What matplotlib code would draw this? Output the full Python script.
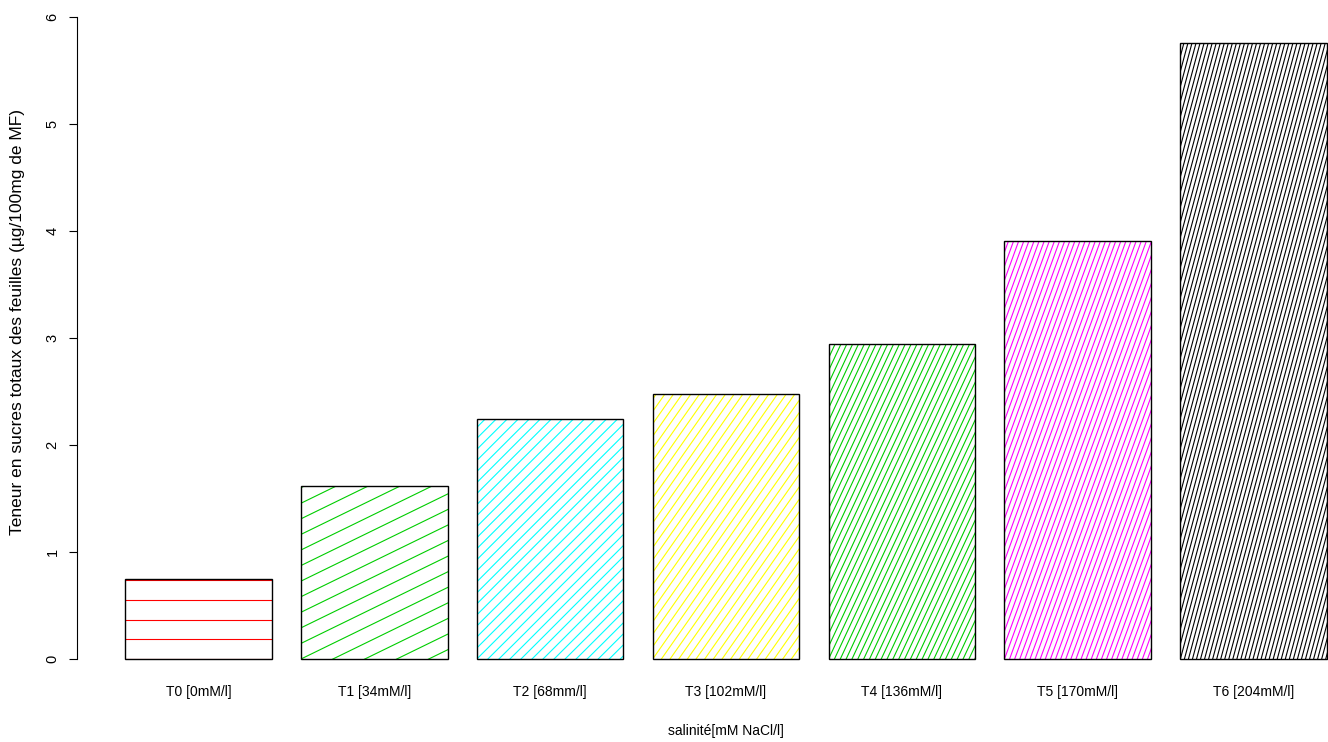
import numpy as np
import matplotlib.pyplot as plt
from matplotlib.collections import LineCollection

plt.rcParams['font.family'] = ['Liberation Sans', 'DejaVu Sans']

labels = ["T0 [0mM/l]", "T1 [34mM/l]", "T2 [68mm/l]", "T3 [102mM/l]",
          "T4 [136mM/l]", "T5 [170mM/l]", "T6 [204mM/l]"]
values = [0.75, 1.62, 2.24, 2.48, 2.94, 3.91, 5.76]
colors = ["red", "#00cd00", "cyan", "yellow", "#00cd00", "magenta", "black"]
angles = [0, 26, 45, 55, 65, 70, 75]          # hatch angle, degrees
spacing = [19.7, 14.0, 7.8, 7.1, 5.3, 4.8, 3.9]  # hatch spacing, pixels

W, H = 1328, 742
fig = plt.figure(figsize=(W / 100, H / 100), dpi=100)

# R-style barplot: width 1, space 0.2, 4% axis extension
x = 0.2 + np.arange(len(values)) * 1.2 + 0.5
xlim = (-0.128, 8.728)
ylim = (-0.24, 6.24)
left_px, right_px = 77, 1375
bot_px, top_px = 684.7, -8.6
ax = fig.add_axes([left_px / W, (H - bot_px) / H,
                   (right_px - left_px) / W, (bot_px - top_px) / H])
ax.set_xlim(*xlim)
ax.set_ylim(*ylim)

bars = ax.bar(x, values, width=1.0, facecolor="none", edgecolor="black",
              linewidth=1.0, zorder=3)

# px per data unit, for drawing hatching at true angles
sx = (right_px - left_px) / (xlim[1] - xlim[0])
sy = (bot_px - top_px) / (ylim[1] - ylim[0])

for bar, col, ang, d in zip(bars, colors, angles, spacing):
    x0 = bar.get_x()
    w = bar.get_width() * sx
    h = bar.get_height() * sy
    t = np.radians(ang)
    n = np.array([-np.sin(t), np.cos(t)])
    u = np.array([np.cos(t), np.sin(t)])
    corners = np.array([[0, 0], [w, 0], [0, h], [w, h]])
    c = corners @ n
    L = np.hypot(w, h)
    segs = []
    for k in range(int(np.ceil(c.min() / d)), int(np.floor(c.max() / d)) + 1):
        p0 = k * d * n
        a, b = p0 - L * u, p0 + L * u
        segs.append([(x0 + a[0] / sx, a[1] / sy), (x0 + b[0] / sx, b[1] / sy)])
    lc = LineCollection(segs, colors=col, linewidths=0.8, zorder=2)
    ax.add_collection(lc)
    lc.set_clip_path(bar)

for s in ["top", "right", "bottom"]:
    ax.spines[s].set_visible(False)
ax.spines["left"].set_bounds(0, 6)
ax.spines["left"].set_linewidth(0.8)

ax.set_yticks(range(7))
ax.set_yticklabels([str(i) for i in range(7)], rotation=90, va="center",
                   fontsize=10.5)
ax.tick_params(axis="y", length=6, width=0.8, pad=6.5)
ax.set_xticks(x)
ax.set_xticklabels(labels, fontsize=10)
ax.tick_params(axis="x", length=0, pad=0)

fig.text(726 / W, 1 - 731 / H, "salinité[mM NaCl/l]", ha="center",
         va="center", fontsize=10)
fig.text(18 / W, 1 - 322 / H,
         "Teneur en sucres totaux des feuilles (µg/100mg de MF)",
         rotation=90, ha="center", va="center", fontsize=12.5)

fig.savefig("out.png", dpi=100)
